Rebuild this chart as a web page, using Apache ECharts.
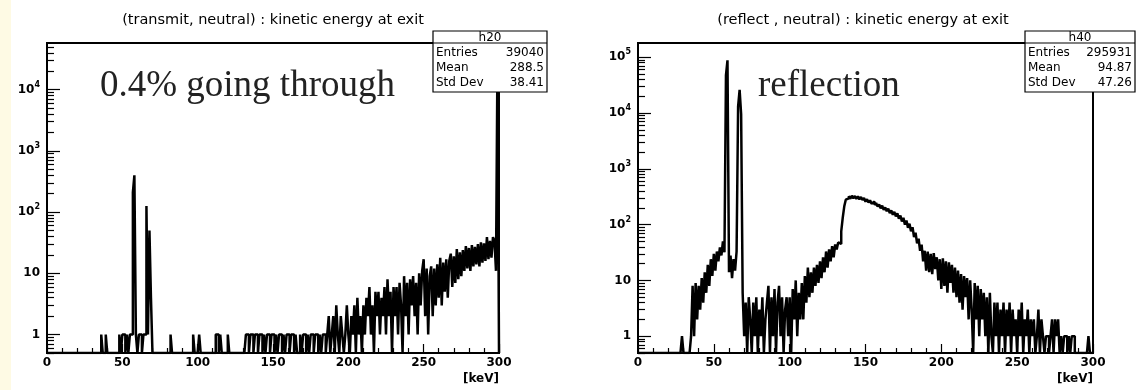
<!DOCTYPE html>
<html>
<head>
<meta charset="utf-8">
<script src="https://cdn.jsdelivr.net/npm/echarts@6/dist/echarts.min.js"></script>
<style>
  html, body { margin: 0; padding: 0; background: #fff; }
  #chart { width: 1136px; height: 390px; }
</style>
</head>
<body>
<div id="chart"></div>
<script>
// bin contents, 1 keV bins from 0 to 300 keV
const h20Counts = [
  0, 0, 0, 0, 0, 0, 0, 0, 0, 0,
  0, 0, 0, 0, 0, 0, 0, 0, 0, 0,
  0, 0, 0, 0, 0, 0, 0, 0, 0, 0,
  0, 0, 0, 0, 0, 0, 1, 0, 0, 1,
  0, 0, 0, 0, 0, 0, 0, 0, 1, 0,
  1, 1, 0, 1, 0, 1, 1, 210, 400, 1,
  0, 1, 1, 0, 1, 1, 126, 1, 50, 4,
  0, 0, 0, 0, 0, 0, 0, 0, 0, 0,
  0, 0, 1, 0, 0, 0, 0, 0, 0, 0,
  0, 0, 0, 0, 0, 0, 0, 1, 0, 0,
  0, 1, 0, 0, 0, 0, 0, 0, 0, 0,
  0, 0, 1, 1, 0, 1, 0, 0, 0, 0,
  1, 0, 0, 0, 0, 0, 0, 0, 0, 0,
  0, 0, 1, 1, 0, 1, 1, 0, 1, 1,
  0, 1, 1, 0, 1, 0, 1, 1, 0, 1,
  1, 0, 1, 0, 1, 1, 0, 1, 0, 1,
  1, 0, 1, 1, 0, 1, 0, 0, 1, 0,
  1, 1, 0, 1, 0, 1, 1, 0, 1, 1,
  0, 1, 0, 1, 1, 0, 1, 2, 0, 1,
  2, 0, 3, 1, 0, 2, 1, 0, 1, 3,
  1, 0, 2, 1, 3, 0, 4, 1, 2, 0,
  3, 1, 4, 2, 6, 1, 3, 0, 5, 2,
  5, 1, 4, 2, 6, 1, 8, 2, 5, 0,
  6, 2, 6, 1, 7, 3, 0, 9, 2, 7,
  1, 8, 3, 9, 2, 7, 1, 10, 3, 11,
  17, 2, 12, 1, 9, 13, 2, 12, 3, 14,
  4, 18, 3, 15, 5, 17, 4, 16, 21, 6,
  19, 7, 25, 8, 22, 9, 24, 11, 28, 12,
  26, 11, 29, 13, 27, 14, 30, 13, 32, 15,
  31, 16, 39, 17, 34, 18, 39, 34, 11, 37500
];

const h40Counts = [
  0, 0, 0, 0, 0, 0, 0, 0, 0, 0,
  0, 0, 0, 0, 0, 0, 0, 0, 0, 0,
  0, 0, 0, 0, 0, 0, 0, 0, 0, 1,
  0, 0, 0, 0, 0, 1, 8, 1, 9, 2,
  8, 3, 11, 4, 14, 6, 19, 8, 24, 12,
  30, 15, 33, 22, 39, 28, 50, 32, 48000, 88000,
  14, 28, 11, 24, 15, 33, 13000, 26000, 9500, 6,
  1, 4, 0, 5, 2, 0, 4, 1, 5, 0,
  3, 1, 5, 0, 2, 4, 8, 0, 5, 1,
  7, 0, 4, 8, 1, 5, 0, 3, 5, 1,
  5, 0, 7, 2, 10, 1, 6, 2, 9, 2,
  12, 4, 17, 5, 14, 6, 17, 8, 19, 9,
  22, 11, 26, 14, 33, 17, 36, 22, 41, 26,
  44, 36, 48, 45, 76, 133, 213, 280, 296, 324,
  290, 330, 296, 326, 290, 320, 284, 312, 276, 300,
  258, 286, 248, 272, 238, 258, 224, 244, 210, 230,
  196, 218, 184, 204, 174, 194, 160, 180, 150, 170,
  140, 160, 128, 146, 114, 132, 100, 118, 88, 104,
  76, 90, 60, 72, 46, 56, 34, 44, 22, 34,
  15, 33, 14, 30, 13, 31, 16, 26, 10, 24,
  7, 25, 8, 22, 6, 21, 9, 19, 6, 17,
  5, 15, 4, 13, 3, 12, 5, 11, 2, 10,
  3, 0, 9, 2, 8, 1, 7, 2, 6, 1,
  5, 0, 6, 1, 0, 4, 1, 4, 0, 3,
  1, 4, 0, 3, 1, 4, 0, 3, 1, 2,
  0, 3, 1, 4, 0, 2, 1, 3, 0, 2,
  1, 2, 0, 1, 3, 0, 2, 1, 0, 1,
  1, 0, 1, 2, 0, 2, 1, 2, 0, 1,
  0, 1, 1, 0, 1, 0, 1, 1, 0, 0,
  0, 0, 0, 0, 0, 0, 0, 1, 0, 0
];

const binWidth = 1;
const xMax = 300;

// y axis ranges and tick labels
const yMin = 0.5;
const h20YMax = 58000;
const h40YMax = 180000;
const h20YLabels = [1, 10, 100, 1000, 10000];
const h40YLabels = [1, 10, 100, 1000, 10000, 100000];

// stats boxes
const statNames = ['Entries', 'Mean', 'Std Dev'];
const h20Stats = ['39040', '288.5', '38.41'];
const h40Stats = ['295931', '94.87', '47.26'];

const titles = [
  '(transmit, neutral) : kinetic energy at exit',
  '(reflect , neutral) : kinetic energy at exit'
];

const sans = 'DejaVu Sans';
const tickStyle = { color: '#000', width: 1.2 };

// minor log ticks at 2..9 x 10^k
const minorTicks = [];
for (let e = -1; e <= 5; e++) {
  for (let m = 2; m <= 9; m++) minorTicks.push(+(m * Math.pow(10, e)).toPrecision(3));
}

// histogram outline: one point per bin low edge, empty bins drawn on the frame floor
function histData(counts) {
  const pts = counts.map((c, i) => [i * binWidth, c > 0 ? c : yMin]);
  pts.push([counts.length * binWidth, yMin]);
  return pts;
}

const frameLine = { show: true, onZero: false, lineStyle: { color: '#000', width: 2 } };

function xAxis(gridIndex) {
  return {
    gridIndex: gridIndex,
    type: 'value',
    position: 'bottom',
    min: 0,
    max: xMax,
    interval: 50,
    z: 5,
    name: '[keV]',
    nameLocation: 'end',
    nameGap: 0,
    nameTextStyle: {
      color: '#000', fontFamily: sans, fontWeight: 'bold', fontSize: 12,
      align: 'right', verticalAlign: 'top', padding: [20, 0, 0, 0]
    },
    axisLine: frameLine,
    axisTick: { show: true, inside: true, length: 9, lineStyle: tickStyle },
    minorTick: { show: true, splitNumber: 5, length: 5, lineStyle: tickStyle },
    splitLine: { show: false },
    axisLabel: { show: true, color: '#000', fontFamily: sans, fontWeight: 'bold', fontSize: 12, margin: 4 }
  };
}

// x axis of the tick-only overlay grid, not drawn
function xHiddenAxis(gridIndex) {
  return {
    gridIndex: gridIndex, type: 'value', min: 0, max: xMax, show: false
  };
}

function yAxis(gridIndex, max, labels) {
  return {
    gridIndex: gridIndex,
    type: 'log',
    logBase: 10,
    position: 'left',
    min: yMin,
    max: max,
    z: 5,
    axisLine: frameLine,
    axisTick: { show: true, inside: true, length: 13, customValues: labels, lineStyle: tickStyle },
    splitLine: { show: false },
    axisLabel: {
      show: true,
      customValues: labels,
      margin: 7,
      formatter: (v) => {
        const e = Math.round(Math.log10(v));
        if (e === 0) return '{b|1}';
        if (e === 1) return '{b|10}';
        return '{b|10}{s|' + e + '}';
      },
      rich: {
        b: { fontFamily: sans, fontWeight: 'bold', fontSize: 12, color: '#000', lineHeight: 18 },
        s: { fontFamily: sans, fontWeight: 'bold', fontSize: 8, color: '#000', lineHeight: 8, verticalAlign: 'top' }
      }
    }
  };
}

// minor ticks, on an overlay grid with the same box so they sit on the left edge too
function yMinorAxis(gridIndex, max) {
  return {
    gridIndex: gridIndex,
    type: 'log',
    logBase: 10,
    position: 'left',
    min: yMin,
    max: max,
    z: 5,
    axisLine: { show: false },
    axisTick: { show: true, inside: true, length: 7, customValues: minorTicks, lineStyle: tickStyle },
    axisLabel: { show: false },
    splitLine: { show: false }
  };
}

function statsBox(x, y, w, name, values) {
  const z = 100;
  const children = [
    { type: 'rect', z: z, shape: { x: 0, y: 0, width: w, height: 61 }, style: { fill: '#fff', stroke: '#000', lineWidth: 1.2 } },
    { type: 'line', z: z, shape: { x1: 0, y1: 12, x2: w, y2: 12 }, style: { stroke: '#000', lineWidth: 1 } },
    { type: 'text', z: z, x: w / 2, y: 6.5, style: { text: name, fill: '#000', fontFamily: sans, fontSize: 12, align: 'center', verticalAlign: 'middle' } }
  ];
  statNames.forEach((label, i) => {
    children.push({ type: 'text', z: z, x: 3, y: 22 + i * 15, style: { text: label, fill: '#000', fontFamily: sans, fontSize: 12, align: 'left', verticalAlign: 'middle' } });
    children.push({ type: 'text', z: z, x: w - 3, y: 22 + i * 15, style: { text: values[i], fill: '#000', fontFamily: sans, fontSize: 12, align: 'right', verticalAlign: 'middle' } });
  });
  return { type: 'group', x: x, y: y, children: children };
}

const leftBox = { left: 47, top: 43, width: 452, height: 310 };
const rightBox = { left: 638, top: 43, width: 455, height: 310 };

const chart = echarts.init(document.getElementById('chart'), null, { renderer: 'canvas' });

const option = {
  animation: false,
  backgroundColor: '#fff',
  title: [
    { text: titles[0], left: 268, top: 8, textAlign: 'center',
      textStyle: { fontFamily: sans, fontSize: 14.5, fontWeight: 'normal', color: '#000' } },
    { text: titles[1], left: 858, top: 8, textAlign: 'center',
      textStyle: { fontFamily: sans, fontSize: 14.5, fontWeight: 'normal', color: '#000' } }
  ],
  grid: [
    Object.assign({ show: true, borderColor: '#000', borderWidth: 2 }, leftBox),
    Object.assign({ show: false }, leftBox),
    Object.assign({ show: true, borderColor: '#000', borderWidth: 2 }, rightBox),
    Object.assign({ show: false }, rightBox)
  ],
  xAxis: [xAxis(0), xHiddenAxis(1), xAxis(2), xHiddenAxis(3)],
  yAxis: [
    yAxis(0, h20YMax, h20YLabels),
    yMinorAxis(1, h20YMax),
    yAxis(2, h40YMax, h40YLabels),
    yMinorAxis(3, h40YMax)
  ],
  series: [
    {
      name: 'h20', type: 'line', xAxisIndex: 0, yAxisIndex: 0,
      data: histData(h20Counts), step: 'end', symbol: 'none', silent: true,
      lineStyle: { color: '#000', width: 2.5 }
    },
    {
      name: 'h40', type: 'line', xAxisIndex: 2, yAxisIndex: 2,
      data: histData(h40Counts), step: 'end', symbol: 'none', silent: true,
      lineStyle: { color: '#000', width: 2.5 }
    }
  ],
  graphic: [
    { type: 'rect', shape: { x: 0, y: 0, width: 11, height: 390 }, style: { fill: '#fefae4' }, z: 0 },
    { type: 'text', x: 100, y: 86, z: 100,
      style: { text: '0.4% going through', fill: '#222', fontFamily: 'Liberation Serif', fontSize: 37, align: 'left', verticalAlign: 'middle' } },
    { type: 'text', x: 758, y: 86, z: 100,
      style: { text: 'reflection', fill: '#222', fontFamily: 'Liberation Serif', fontSize: 37, align: 'left', verticalAlign: 'middle' } },
    statsBox(433, 31, 114, 'h20', h20Stats),
    statsBox(1025, 31, 110, 'h40', h40Stats)
  ]
};

chart.setOption(option);

window.addEventListener('resize', () => {
  chart.resize();
});
</script>
</body>
</html>
